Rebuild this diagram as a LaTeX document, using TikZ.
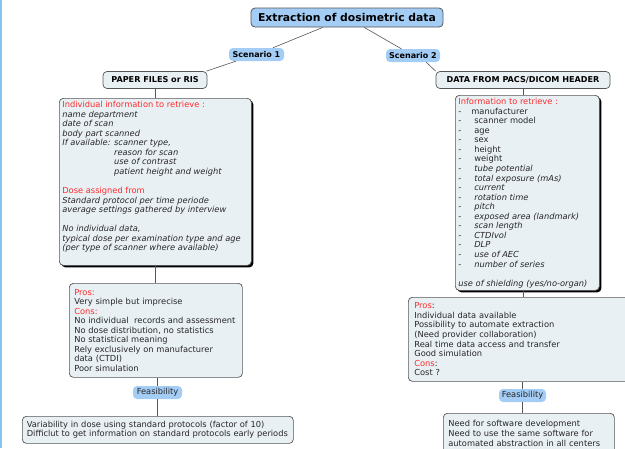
\documentclass[tikz,border=0pt]{standalone}
\usepackage{fontspec}
\setmainfont{DejaVu Sans}
\usetikzlibrary{shadows}
\definecolor{bubble}{HTML}{A4CDF6}
\definecolor{boxfill}{HTML}{E9F0F4}
\definecolor{edgec}{HTML}{555555}
\definecolor{redtxt}{HTML}{FF2A2A}
\definecolor{strip}{HTML}{86C3EC}
\definecolor{ink}{HTML}{262626}
\newcommand{\rd}[1]{\textcolor{redtxt}{#1}}
\tikzset{
  titlebox/.style={draw=edgec, line width=0.8pt, fill=bubble, rounded corners=4pt,
    minimum width=192pt, minimum height=19pt, inner sep=0pt,
    font=\fontsize{10.8}{12}\selectfont\bfseries, text=black},
  scen/.style={fill=bubble, rounded corners=4pt, minimum height=13pt, inner sep=0pt,
    font=\fontsize{8}{9}\selectfont\bfseries, text=black},
  feas/.style={fill=bubble, rounded corners=4pt, minimum height=13pt, inner sep=0pt,
    font=\fontsize{8.3}{9}\selectfont, text=ink},
  header/.style={draw=edgec, line width=0.7pt, fill=boxfill, rounded corners=4pt,
    minimum height=17pt, inner sep=0pt, font=\fontsize{8.1}{9}\selectfont\bfseries, text=black},
  infobox/.style={draw=edgec, line width=0.7pt, fill=boxfill, rounded corners=4pt,
    anchor=north west, inner sep=3pt, font=\fontsize{8.3}{9.55}\selectfont, text=ink,
    drop shadow={shadow xshift=2pt, shadow yshift=-2pt, fill=black, opacity=1}},
  probox/.style={draw=edgec, line width=0.7pt, fill=boxfill, rounded corners=4pt,
    anchor=north west, align=left, inner xsep=5pt, inner ysep=0pt,
    font=\fontsize{8.3}{9.55}\selectfont, text=ink},
  conn/.style={draw=edgec, line width=0.6pt},
}
\begin{document}
\begin{tikzpicture}[x=1pt,y=-1pt]
\useasboundingbox (0,0) rectangle (625,448);
\fill[strip] (0,0) rectangle (2,448);

% top level
\node[titlebox] (T) at (347,17.5) {Extraction of dosimetric data};
\node[scen, minimum width=55pt] (S1) at (256.5,54.5) {Scenario 1};
\node[scen, minimum width=54pt] (S2) at (413,55.5) {Scenario 2};
\node[header, minimum width=104pt] (P1) at (155,80) {PAPER FILES or RIS};
\node[header, minimum width=174pt] (P2) at (523,80) {DATA FROM PACS/DICOM HEADER};

% left column
\node[infobox] (L1) at (59,98) {\parbox[t][161pt][t]{186pt}{\raggedright
\rd{Individual information to retrieve :}\\
\itshape name department\\
date of scan\\
body part scanned\\
If available: scanner type,\\
\phantom{If available: }reason for scan\\
\phantom{If available: }use of contrast\\
\phantom{If available: }patient height and weight\\[9.55pt]
\upshape\rd{Dose assigned from}\\
\itshape Standard protocol per time periode\\
average settings gathered by interview\\[9.55pt]
No individual data,\\
typical dose per examination type and age\\
(per type of scanner where available)}};

\node[probox, text width=163pt, minimum height=94pt] (L2) at (69,283) {%
\rd{Pros:}\\
Very simple but imprecise\\
\rd{Cons:}\\
\mbox{No individual\ \ records and assessment}\\
No dose distribution, no statistics\\
No statistical meaning\\
Rely exclusively on manufacturer\\
data (CTDI)\\
Poor simulation};

\node[feas, minimum width=49pt] (FL) at (157.5,392.5) {Feasibility};

\node[probox, inner xsep=4.5pt, text width=262pt, minimum height=27pt] (L3) at (22,416) {%
\mbox{Variability in dose using standard protocols (factor of 10)}\\
\mbox{Difficlut to get information on standard protocols early periods}};

% right column
\node[infobox] (R1) at (455,95) {\parbox[t][189pt][t]{138pt}{\raggedright
\rd{Information to retrieve :}\\
\makebox[13pt][l]{-}manufacturer\\
\makebox[16pt][l]{-}scanner model\\
\makebox[16pt][l]{-}age\\
\makebox[16pt][l]{-}sex\\
\makebox[16pt][l]{-}height\\
\makebox[16pt][l]{-}weight\\
\makebox[16pt][l]{-}\textit{tube potential}\\
\makebox[16pt][l]{-}\textit{total exposure (mAs)}\\
\makebox[16pt][l]{-}\textit{current}\\
\makebox[16pt][l]{-}\textit{rotation time}\\
\makebox[16pt][l]{-}\textit{pitch}\\
\makebox[16pt][l]{-}\textit{exposed area (landmark)}\\
\makebox[16pt][l]{-}\textit{scan length}\\
\makebox[16pt][l]{-}\textit{CTDIvol}\\
\makebox[16pt][l]{-}\textit{DLP}\\
\makebox[16pt][l]{-}\textit{use of AEC}\\
\makebox[16pt][l]{-}\textit{number of series}\\[9.55pt]
\textit{use of shielding (yes/no-organ)}}};

\node[probox, inner xsep=6pt, text width=220pt, minimum height=84pt] (R2) at (408,297) {%
\rd{Pros}:\\
Individual data available\\
Possibility to automate extraction\\
(Need provider collaboration)\\
Real time data access and transfer\\
Good simulation\\
\rd{Cons}:\\
Cost ?};

\node[feas, minimum width=47pt] (FR) at (522.5,395.5) {Feasibility};

\node[probox, text width=161pt, minimum height=40pt] (R3) at (443,413) {%
Need for software development\\
Need to use the same software for\\
\mbox{automated abstraction in all centers}};

% connectors
\draw[conn] (T) -- (S1);
\draw[conn] (T) -- (S2);
\draw[conn] ([xshift=7pt]S1.south west) -- ([xshift=-1pt]P1.north east);
\draw[conn] ([xshift=-14pt]S2.south east) -- (P2.north west);
\draw[conn] (P1) -- (P1 |- L1.north);
\draw[conn] (P1 |- L1.south) -- (P1 |- L2.north);
\draw[conn] (FL |- L2.south) -- (FL);
\draw[conn] (FL) -- (FL |- L3.north);
\draw[conn] (P2) -- (P2 |- R1.north);
\draw[conn] (P2 |- R1.south) -- (P2 |- R2.north);
\draw[conn] (FR |- R2.south) -- (FR);
\draw[conn] (FR) -- (FR |- R3.north);
\end{tikzpicture}
\end{document}
